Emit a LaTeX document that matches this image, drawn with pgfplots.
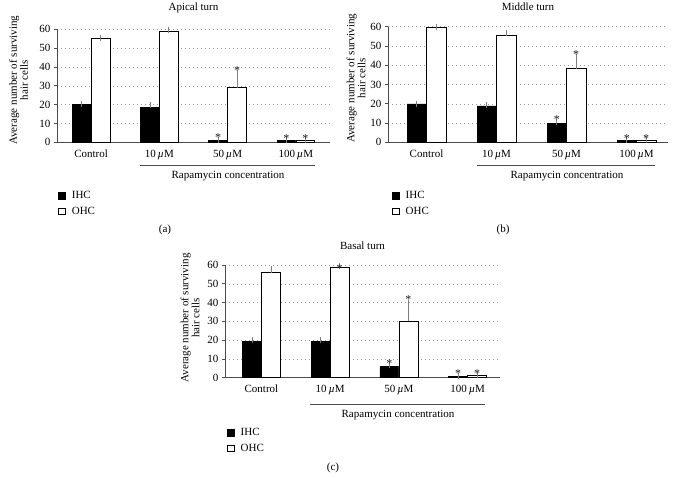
\documentclass[border=0pt]{standalone}
\usepackage{fontspec}
\setmainfont{Liberation Serif}
\usepackage{pgfplots}
\pgfplotsset{compat=1.18}

\newcommand{\fs}{\fontsize{11}{11}\selectfont}
\pgfplotsset{
 hc/.style={
  scale only axis, ymin=0, ymax=60, ytick={0,10,...,60},
  xtick={0,1,2,3},
  xticklabels={Control, 10\,\textit{µ}M, 50\,\textit{µ}M, 100\,\textit{µ}M},
  axis x line*=bottom, axis y line*=left,
  axis line style={-, draw=black!70, line width=0.6pt},
  ymajorgrids,
  major grid style={gray!80, line width=0.5pt, dash pattern=on 0.7pt off 3.3pt},
  major x tick style={draw=none},
  ytick style={draw=black!70, line width=0.6pt},
  tick align=outside, major tick length=3pt,
  tick label style={font=\fs},
  xticklabel style={yshift=-1pt},
  /pgf/number format/assume math mode=true,
  clip=false,
  title style={font=\fs, at={(0.5,1)}, anchor=base},
  ylabel={Average number of surviving\\hair cells},
  ylabel style={font=\fs, align=center, anchor=center, rotate=0},
  legend style={draw=none, fill=none, inner sep=0pt, anchor=north west,
     font=\fs, row sep=3pt, cells={anchor=west}},
  legend cell align=left,
 },
 barbase/.style={ybar, bar width=0.276, bar shift=0pt, draw=black, line width=0.6pt,
   error bars/y dir=plus, error bars/y explicit,
   error bars/error bar style={gray, line width=0.8pt},
   error bars/error mark options={gray, mark size=3pt, line width=0.8pt}},
 ihc/.style={barbase, fill=black,
   legend image code/.code={\draw[fill=black,draw=black,line width=0.5pt] (0pt,-3.3pt) rectangle (6.6pt,3.3pt); \path (11pt,0pt);}},
 ohc/.style={barbase, fill=white,
   legend image code/.code={\draw[fill=white,draw=black,line width=0.5pt] (0pt,-3.3pt) rectangle (6.6pt,3.3pt); \path (11pt,0pt);}},
 star/.style={only marks, mark=none, forget plot,
   nodes near coords={*}, every node near coord/.style={anchor=center, yshift=-1.5pt, text=black!90, font=\fontsize{12}{12}\selectfont}},
}

\begin{document}
\begin{tikzpicture}
\path[use as bounding box] (0,0) rectangle (676pt,478pt);

% (a) Apical turn
\begin{axis}[hc, at={(57pt,335.7pt)}, anchor=south west,
  width=273pt, height=113pt, xmin=-0.5, xmax=3.5,
  title={Apical turn}, title style={yshift=13pt},
  ylabel style={at={(axis description cs:-0.141,0.55)}},
  legend style={at={(axis description cs:0.004,-0.413)}}]
\addplot[ihc] coordinates {(-0.138,20) +- (0,0.3) (0.862,18.6) +- (0,1.2) (1.862,0.8) +- (0,0.2) (2.862,0.8) +- (0,0.2)};
\addlegendentry{IHC}
\addplot[ohc] coordinates {(0.138,55) +- (0,0.3) (1.138,59) +- (0,0.8) (2.138,29) +- (0,7.8) (3.138,1.1) +- (0,0.2)};
\addlegendentry{OHC}
\addplot[star] coordinates {(1.862,3.5) (2.862,3.0) (2.138,39) (3.138,3.0)};
\end{axis}

% (b) Middle turn
\begin{axis}[hc, at={(388pt,335.7pt)}, anchor=south west,
  width=280pt, height=115.6pt, xmin=-0.55, xmax=3.45,
  title={Middle turn}, title style={yshift=10pt},
  ylabel style={at={(axis description cs:-0.114,0.555)}},
  legend style={at={(axis description cs:0.014,-0.404)}}]
\addplot[ihc] coordinates {(-0.138,19.9) +- (0,0.2) (0.862,18.9) +- (0,0.5) (1.862,10) +- (0,0.3) (2.862,0.8) +- (0,0.2)};
\addlegendentry{IHC}
\addplot[ohc] coordinates {(0.138,59.6) +- (0,0.3) (1.138,55.5) +- (0,1.0) (2.138,38.2) +- (0,6) (3.138,1.0) +- (0,0.2)};
\addlegendentry{OHC}
\addplot[star] coordinates {(1.862,12.5) (2.862,2.9) (2.138,46.2) (3.138,2.9)};
\end{axis}

% (c) Basal turn
\begin{axis}[hc, at={(225pt,100.3pt)}, anchor=south west,
  width=275pt, height=112.7pt, xmin=-0.53, xmax=3.47,
  title={Basal turn}, title style={yshift=10pt},
  ylabel style={at={(axis description cs:-0.127,0.53)}},
  legend style={at={(axis description cs:0.007,-0.429)}}]
\addplot[ihc] coordinates {(-0.138,19.5) +- (0,0.5) (0.862,19.5) +- (0,0.5) (1.862,5.9) +- (0,0.8) (2.862,0.8) +- (0,0.2)};
\addlegendentry{IHC}
\addplot[ohc] coordinates {(0.138,56) +- (0,1.8) (1.138,58.8) +- (0,0.5) (2.138,30) +- (0,10) (3.138,1.1) +- (0,0.2)};
\addlegendentry{OHC}
\addplot[star] coordinates {(1.862,8.5) (2.862,3.2) (1.138,59.1) (2.138,42.3) (3.138,3.2)};
\end{axis}

% group brackets and captions
\begin{scope}[font=\fs]
\draw[black!70, line width=0.6pt] (140pt,313pt) -- (315pt,313pt);
\node at (228pt,302pt) {Rapamycin concentration};
\node at (165pt,248pt) {(a)};
\draw[black!70, line width=0.6pt] (477pt,313pt) -- (655pt,313pt);
\node at (567pt,302pt) {Rapamycin concentration};
\node at (503pt,248pt) {(b)};
\draw[black!70, line width=0.6pt] (310pt,74pt) -- (485pt,74pt);
\node at (398pt,63pt) {Rapamycin concentration};
\node at (333pt,10pt) {(c)};
\end{scope}
\end{tikzpicture}
\end{document}
